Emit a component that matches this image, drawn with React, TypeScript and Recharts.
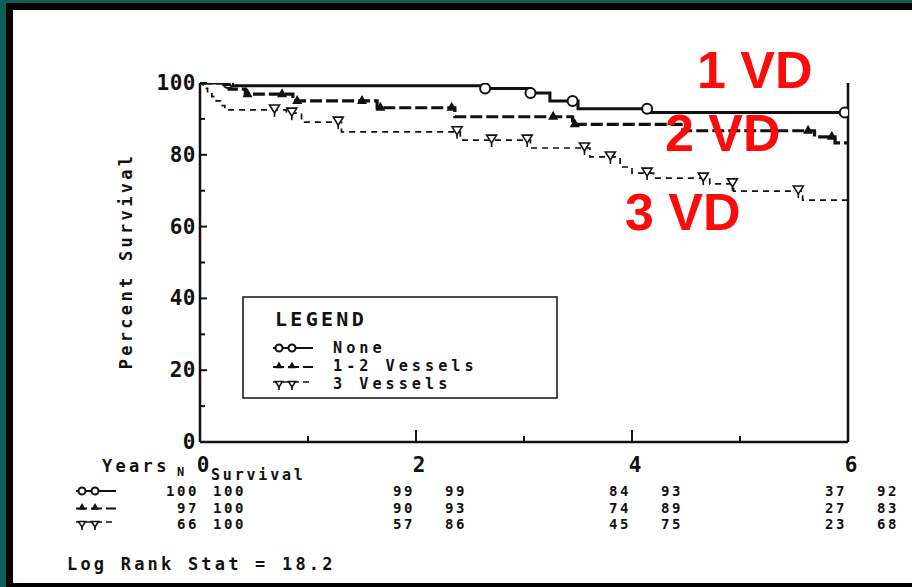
import { ComposedChart, Line, Scatter, XAxis, YAxis } from 'recharts'

// survival curves (years, percent survival)
const NONE_T = [0, 0.3, 2.65, 3.06, 3.24, 3.5, 4.17, 6]
const NONE_S = [100, 99.2, 98.5, 97.2, 95, 92.8, 91.8, 91.8]
const NONE_MARK_T = [0.26, 2.64, 3.06, 3.45, 4.14, 5.97]
const NONE_MARK_S = [100, 98.5, 97.2, 95, 92.8, 91.8]

const VES12_T = [0, 0.27, 0.42, 0.86, 1.64, 2.36, 3.45, 4.47, 5.69, 5.88, 6]
const VES12_S = [100, 98.3, 96.9, 95, 93.1, 90.6, 88.5, 86.7, 85, 83.3, 83.3]
const VES12_MARK_T = [0.25, 0.44, 0.76, 0.9, 1.5, 1.67, 2.33, 3.27, 3.47, 5.63, 5.85]
const VES12_MARK_S = [100, 96.9, 96.9, 95, 95, 93.1, 93.1, 90.6, 88.5, 86.7, 85]

const VES3_T = [0, 0.03, 0.07, 0.11, 0.15, 0.19, 0.23, 0.8, 0.94, 1.31, 2.41, 3.06, 3.61, 3.89, 4.0, 4.2, 4.72, 4.94, 5.58, 6]
const VES3_S = [100, 98.5, 97.3, 96.2, 95, 93.7, 92.5, 91.6, 89.1, 86.4, 84.1, 81.9, 79.4, 76.6, 74.9, 73.5, 71.9, 69.9, 67.4, 67.4]
const VES3_MARK_T = [0.69, 0.85, 1.28, 2.38, 2.7, 3.03, 3.56, 3.8, 4.14, 4.66, 4.93, 5.54]
const VES3_MARK_S = [92.5, 91.6, 89.1, 86.4, 84.1, 84.1, 81.9, 79.4, 74.9, 73.5, 71.9, 69.9]

// numbers at risk table
const TABLE_YEARS = [0, 2, 4, 6]
const N_NONE = [100, 99, 84, 37]
const SURV_NONE = [100, 99, 93, 92]
const N_12 = [97, 90, 74, 27]
const SURV_12 = [100, 93, 89, 83]
const N_3 = [66, 57, 45, 23]
const SURV_3 = [100, 86, 75, 68]

const Y_TICKS = [0, 10, 20, 30, 40, 50, 60, 70, 80, 90, 100]
const X_TICKS = [0, 1, 2, 3, 4, 5, 6]
const LEGEND_LABELS = ['None', '1-2 Vessels', '3 Vessels']
const VD_LABELS = ['1 VD', '2 VD', '3 VD']

const W = 912
const H = 587
const PLOT_LEFT = 200
const PLOT_RIGHT = 848
const PLOT_TOP = 83
const PLOT_BOTTOM = 442
const xPx = (t: number) => PLOT_LEFT + (t / 6) * (PLOT_RIGHT - PLOT_LEFT)

const MONO = '"DejaVu Sans Mono", "Liberation Mono", monospace'
const INK = '#111'

const zip = (t: number[], s: number[]) => t.map((v, i) => ({ t: v, v: s[i] }))

const Circle = ({ cx, cy, r = 5 }: any) => <circle cx={cx} cy={cy} r={r} fill="#fff" stroke={INK} strokeWidth={2} />
const TriUp = ({ cx, cy, k = 1 }: any) => (
  <polygon points={`${cx},${cy - 6 * k} ${cx - 5 * k},${cy + 3 * k} ${cx + 5 * k},${cy + 3 * k}`} fill={INK} />
)
const TriDown = ({ cx, cy, k = 1 }: any) => (
  <g>
    <polygon
      points={`${cx - 5 * k},${cy - 5 * k} ${cx + 5 * k},${cy - 5 * k} ${cx},${cy + 3 * k}`}
      fill="#fff"
      stroke={INK}
      strokeWidth={1.6}
    />
    <line x1={cx} y1={cy + 3 * k} x2={cx} y2={cy + 7 * k} stroke={INK} strokeWidth={1.6} />
  </g>
)

const LeftTick = ({ x, y, payload }: any) => {
  const major = payload.value % 20 === 0
  return (
    <g>
      <line x1={x} x2={x + (major ? 7 : 5)} y1={y} y2={y} stroke={INK} strokeWidth={2} />
      {major && (
        <text x={x - 4} y={y + 7} textAnchor="end" fontFamily={MONO} fontWeight="bold" fontSize={21} letterSpacing={0.5} fill={INK}>
          {payload.value}
        </text>
      )}
    </g>
  )
}

const RightTick = ({ x, y, payload }: any) => {
  const major = payload.value % 20 === 0
  return (
    <g>
      <line x1={x - (major ? 7 : 5)} x2={x} y1={y} y2={y} stroke={INK} strokeWidth={2} />
      {major && (
        <text x={x + 8} y={y + 7} textAnchor="start" fontFamily={MONO} fontWeight="bold" fontSize={21} letterSpacing={0.5} fill={INK}>
          {payload.value}
        </text>
      )}
    </g>
  )
}

const BottomTick = ({ x, y, payload }: any) => {
  const major = payload.value % 2 === 0
  return (
    <g>
      <line x1={x} x2={x} y1={y} y2={y - (major ? 12 : 6)} stroke={INK} strokeWidth={2} />
      {major && (
        <text x={x + 3} y={y + 30} textAnchor="middle" fontFamily={MONO} fontWeight="bold" fontSize={21} fill={INK}>
          {payload.value}
        </text>
      )}
    </g>
  )
}

function SymbolRow({ x, y, kind }: { x: number; y: number; kind: number }) {
  if (kind === 0)
    return (
      <g>
        <line x1={x} x2={x + 40} y1={y} y2={y} stroke={INK} strokeWidth={1.8} />
        <Circle cx={x + 6} cy={y} r={3.5} />
        <Circle cx={x + 19} cy={y} r={3.5} />
      </g>
    )
  if (kind === 1)
    return (
      <g>
        <line x1={x} x2={x + 40} y1={y + 1} y2={y + 1} stroke={INK} strokeWidth={2.2} strokeDasharray="11 4" />
        <TriUp cx={x + 6} cy={y} k={0.75} />
        <TriUp cx={x + 19} cy={y} k={0.75} />
      </g>
    )
  return (
    <g>
      <line x1={x} x2={x + 40} y1={y - 2} y2={y - 2} stroke={INK} strokeWidth={1.5} strokeDasharray="6 4" />
      <TriDown cx={x + 6} cy={y + 1} k={0.7} />
      <TriDown cx={x + 19} cy={y + 1} k={0.7} />
    </g>
  )
}

function Overlay() {
  const rows = [
    { n: N_NONE, s: SURV_NONE },
    { n: N_12, s: SURV_12 },
    { n: N_3, s: SURV_3 },
  ]
  const rowY = [496, 512.5, 529]
  const legendY = [353, 371, 389]
  const vdPos = [
    [697, 88],
    [665, 151],
    [625, 230],
  ]
  return (
    <svg width={W} height={H} style={{ position: 'absolute', left: 0, top: 0 }}>
      {/* axis title */}
      <text
        transform={`translate(132, 261) rotate(-90)`}
        textAnchor="middle"
        fontFamily={MONO}
        fontWeight="bold"
        fontSize={17}
        letterSpacing={3.3}
        fill={INK}
      >
        Percent Survival
      </text>

      {/* legend box */}
      <rect x={243} y={297} width={314} height={101} fill="#fff" stroke={INK} strokeWidth={1.5} />
      <text x={275} y={326} fontFamily={MONO} fontWeight="bold" fontSize={20} letterSpacing={3.3} fill={INK}>
        LEGEND
      </text>
      {LEGEND_LABELS.map((l, i) => (
        <g key={l}>
          <SymbolRow x={273} y={legendY[i] - 5} kind={i} />
          <text x={333} y={legendY[i]} fontFamily={MONO} fontWeight="bold" fontSize={15.2} letterSpacing={4} fill={INK}>
            {l}
          </text>
        </g>
      ))}

      {/* numbers at risk */}
      <text x={102} y={472} fontFamily={MONO} fontWeight="bold" fontSize={17} letterSpacing={3.3} fill={INK}>
        Years
      </text>
      <text x={177} y={476} fontFamily={MONO} fontWeight="bold" fontSize={12} fill={INK}>
        N
      </text>
      <text x={211} y={480} fontFamily={MONO} fontWeight="bold" fontSize={15} letterSpacing={2.8} fill={INK}>
        Survival
      </text>
      {rows.map((r, i) => (
        <g key={i}>
          <SymbolRow x={76} y={rowY[i] - 5} kind={i} />
          {TABLE_YEARS.map((yr, j) => (
            <g key={yr}>
              <text x={xPx(yr) - 1} y={rowY[i]} textAnchor="end" fontFamily={MONO} fontWeight="bold" fontSize={14} letterSpacing={2.6} fill={INK}>
                {r.n[j]}
              </text>
              <text
                x={j === 0 ? xPx(yr) + 46 : xPx(yr) + 51}
                y={rowY[i]}
                textAnchor="end"
                fontFamily={MONO}
                fontWeight="bold"
                fontSize={14}
                letterSpacing={2.6}
                fill={INK}
              >
                {r.s[j]}
              </text>
            </g>
          ))}
        </g>
      ))}
      <text x={67} y={570} fontFamily={MONO} fontWeight="bold" fontSize={17} letterSpacing={3.2} fill={INK}>
        Log Rank Stat = 18.2
      </text>

      {/* red annotations */}
      {VD_LABELS.map((l, i) => (
        <text
          key={l}
          x={vdPos[i][0]}
          y={vdPos[i][1]}
          fontFamily='"Liberation Sans", Arial, sans-serif'
          fontWeight="bold"
          fontSize={52}
          fill="#ff0a0a"
        >
          {l}
        </text>
      ))}
    </svg>
  )
}

export default function App() {
  const none = zip(NONE_T, NONE_S)
  const ves12 = zip(VES12_T, VES12_S)
  const ves3 = zip(VES3_T, VES3_S)

  return (
    <div style={{ position: 'absolute', left: 0, top: 0, width: W, height: H, background: '#0a5e58', overflow: 'hidden' }}>
      <div style={{ position: 'absolute', left: 6, top: 3, width: W - 6, height: H - 3, background: '#000' }} />
      <div style={{ position: 'absolute', left: 13, top: 10, width: W - 13, height: 573, background: '#fff' }} />
      <div style={{ position: 'absolute', left: 0, top: 0 }}>
        <ComposedChart
          width={W}
          height={H}
          margin={{ top: PLOT_TOP, right: W - PLOT_RIGHT - 60, bottom: H - PLOT_BOTTOM - 30, left: PLOT_LEFT - 60 }}
        >
          <XAxis
            type="number"
            dataKey="t"
            domain={[0, 6]}
            ticks={X_TICKS}
            height={30}
            tickSize={0}
            tickMargin={0}
            tickLine={false}
            axisLine={{ stroke: INK, strokeWidth: 2.5 }}
            tick={<BottomTick />}
            interval={0}
            allowDataOverflow
          />
          <YAxis
            yAxisId="left"
            type="number"
            dataKey="v"
            domain={[0, 100]}
            ticks={Y_TICKS}
            width={60}
            tickSize={0}
            tickMargin={0}
            tickLine={false}
            axisLine={{ stroke: INK, strokeWidth: 2.5 }}
            tick={<LeftTick />}
            interval={0}
            allowDataOverflow
          />
          <YAxis
            yAxisId="right"
            orientation="right"
            type="number"
            domain={[0, 100]}
            ticks={Y_TICKS}
            width={60}
            tickSize={0}
            tickMargin={0}
            tickLine={false}
            axisLine={{ stroke: INK, strokeWidth: 2.5 }}
            tick={<RightTick />}
            interval={0}
          />
          <Line yAxisId="left" data={none} dataKey="v" type="stepAfter" stroke={INK} strokeWidth={3} dot={false} activeDot={false} isAnimationActive={false} />
          <Line
            yAxisId="left"
            data={ves12}
            dataKey="v"
            type="stepAfter"
            stroke={INK}
            strokeWidth={3.2}
            strokeDasharray="12 4"
            dot={false}
            activeDot={false}
            isAnimationActive={false}
          />
          <Line
            yAxisId="left"
            data={ves3}
            dataKey="v"
            type="stepAfter"
            stroke={INK}
            strokeWidth={1.7}
            strokeDasharray="6 5"
            dot={false}
            activeDot={false}
            isAnimationActive={false}
          />
          <Scatter yAxisId="left" data={zip(NONE_MARK_T, NONE_MARK_S)} dataKey="v" shape={Circle} isAnimationActive={false} />
          <Scatter yAxisId="left" data={zip(VES12_MARK_T, VES12_MARK_S)} dataKey="v" shape={TriUp} isAnimationActive={false} />
          <Scatter yAxisId="left" data={zip(VES3_MARK_T, VES3_MARK_S)} dataKey="v" shape={TriDown} isAnimationActive={false} />
        </ComposedChart>
      </div>
      <Overlay />
    </div>
  )
}
